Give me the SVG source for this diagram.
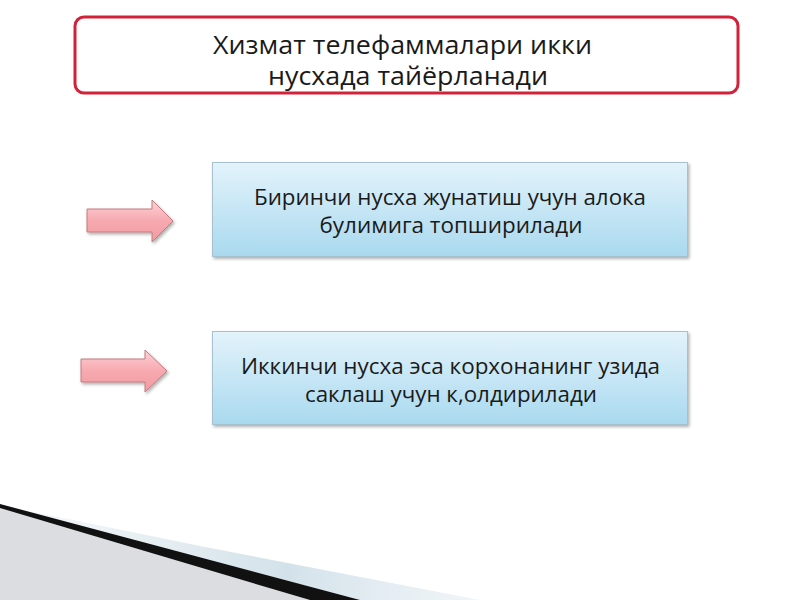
<svg xmlns="http://www.w3.org/2000/svg" width="800" height="600" viewBox="0 0 800 600">
<defs>
<style>
.t{font-family:"Open Sans","Noto Sans","DejaVu Sans",sans-serif;fill:#1a1a1a;text-anchor:middle}
.title{font-size:25.5px}
.body{font-size:22px}
.box{fill:url(#bg);stroke:#a8bfcc;stroke-width:1;filter:url(#sh)}
.arrow{fill:url(#ag);stroke:#c27a80;stroke-width:1;filter:url(#sh)}
</style>
<linearGradient id="bg" x1="0" y1="0" x2="0" y2="1">
<stop offset="0" stop-color="#e3f3fb"/>
<stop offset="1" stop-color="#a9d9ef"/>
</linearGradient>
<linearGradient id="ag" x1="0" y1="0" x2="0" y2="1">
<stop offset="0" stop-color="#fbd3d6"/>
<stop offset="0.5" stop-color="#f7a9b0"/>
<stop offset="1" stop-color="#f39aa2"/>
</linearGradient>
<linearGradient id="band" x1="0" y1="0" x2="1" y2="0">
<stop offset="0" stop-color="#dbe6ec" stop-opacity="0.2"/>
<stop offset="0.6" stop-color="#d3e2ea"/>
<stop offset="1" stop-color="#e6eef3" stop-opacity="0.6"/>
</linearGradient>
<filter id="sh" x="-10%" y="-20%" width="125%" height="150%">
<feDropShadow dx="1.5" dy="2" stdDeviation="1.5" flood-color="#000" flood-opacity="0.3"/>
</filter>
</defs>
<rect width="800" height="600" fill="#ffffff"/>
<g id="decor">
<polygon points="0,505 200,546 480,600 360,600" fill="url(#band)"/>
<polygon points="0,507 310,600 0,600" fill="#dcdde1"/>
<polygon points="0,504 360,600 310,600 0,508" fill="#111111"/>
</g>
<g id="title">
<rect x="75" y="17" width="663" height="76" rx="9" fill="#ffffff" stroke="#d2223a" stroke-width="3"/>
<text class="t title" x="402.5" y="54" textLength="379" lengthAdjust="spacingAndGlyphs">Хизмат телефаммалари икки</text>
<text class="t title" x="408" y="85" textLength="280" lengthAdjust="spacingAndGlyphs">нусхада тайёрланади</text>
</g>
<g id="connectors">
<polygon class="arrow" points="87,209 152,209 152,200 173,221 152,242 152,232 87,232"/>
<polygon class="arrow" points="81,359 145,359 145,350 167,371 145,392 145,382 81,382"/>
</g>
<g id="box1">
<rect class="box" x="212.5" y="162.5" width="475" height="94"/>
<text class="t body" x="450" y="205" textLength="392" lengthAdjust="spacingAndGlyphs">Биринчи нусха жунатиш учун алока</text>
<text class="t body" x="451" y="233" textLength="263" lengthAdjust="spacingAndGlyphs">булимига топширилади</text>
</g>
<g id="box2">
<rect class="box" x="212.5" y="331.5" width="475" height="93"/>
<text class="t body" x="450.5" y="374" textLength="419" lengthAdjust="spacingAndGlyphs">Иккинчи нусха эса корхонанинг узида</text>
<text class="t body" x="451" y="402" textLength="292" lengthAdjust="spacingAndGlyphs">саклаш учун к,олдирилади</text>
</g>
</svg>
